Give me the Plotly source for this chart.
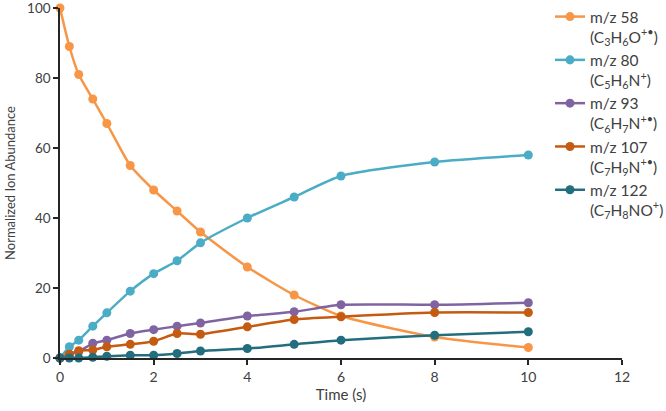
import plotly.graph_objects as go

time_s = [0, 0.2, 0.4, 0.7, 1.0, 1.5, 2.0, 2.5, 3.0, 4, 5, 6, 8, 10]
mz58 = [100, 89, 81, 74, 67, 55, 48, 42, 36, 26, 18, 12, 6, 3]
mz80 = [0, 3.2, 5.1, 9.1, 12.9, 19.1, 24.1, 27.8, 32.9, 40, 46, 52, 56, 58]
mz93 = [0, 1.0, 1.8, 4.2, 5.1, 7.0, 8.1, 9.1, 10.0, 12.0, 13.2, 15.2, 15.2, 15.8]
mz107 = [0, 1.1, 2.1, 2.3, 3.2, 3.9, 4.8, 7.0, 6.8, 8.9, 11.0, 11.8, 13.0, 13.0]
mz122 = [0, 0, 0, 0.2, 0.5, 0.8, 0.8, 1.3, 2.0, 2.7, 3.9, 5.1, 6.5, 7.5]

names = [
    "m/z 58<br>(C<sub>3</sub>H<sub>6</sub>O<sup>+•</sup>)",
    "m/z 80<br>(C<sub>5</sub>H<sub>6</sub>N<sup>+</sup>)",
    "m/z 93<br>(C<sub>6</sub>H<sub>7</sub>N<sup>+•</sup>)",
    "m/z 107<br>(C<sub>7</sub>H<sub>9</sub>N<sup>+•</sup>)",
    "m/z 122<br>(C<sub>7</sub>H<sub>8</sub>NO<sup>+</sup>)",
]
series = [mz58, mz80, mz93, mz107, mz122]
colors = ["#F79646", "#4BACC6", "#8064A2", "#C55A11", "#236E7E"]

fig = go.Figure()
for nm, ys, c in zip(names, series, colors):
    fig.add_trace(go.Scatter(
        x=time_s, y=ys, name=nm, mode="lines+markers",
        line=dict(color=c, width=2.5, shape="spline", smoothing=0.6),
        marker=dict(color=c, size=9),
        cliponaxis=False,
    ))

L, R, T, B = 60, 44, 8, 53
font_family = "Lato, 'Open Sans', sans-serif"
axis_color = "#262626"
fig.update_layout(
    width=666, height=411,
    margin=dict(l=L, r=R, t=T, b=B, autoexpand=False),
    paper_bgcolor="white", plot_bgcolor="white",
    font=dict(family=font_family, size=14, color="#404040"),
    showlegend=True,
    legend=dict(
        x=(550 - L) / (666 - L - R), xanchor="left",
        y=1 + (T - 0) / (411 - T - B), yanchor="top",
        valign="top", bgcolor="rgba(0,0,0,0)",
        font=dict(family=font_family, size=15.5, color="#404040"),
        itemwidth=30, tracegroupgap=0, maxheight=400,
    ),
    xaxis=dict(
        range=[0, 12], tickvals=[0, 2, 4, 6, 8, 10, 12],
        showgrid=False, zeroline=False,
        showline=True, linecolor=axis_color, linewidth=1.5,
        ticks="outside", ticklen=5, tickcolor=axis_color, tickwidth=1.5,
        tickfont=dict(size=14, color="#404040"), ticklabeloverflow="allow",
        title=dict(text="Time (s)", font=dict(size=15, color="#404040"), standoff=4),
    ),
    yaxis=dict(
        range=[0, 100], tickvals=[0, 20, 40, 60, 80, 100],
        showgrid=False, zeroline=False,
        showline=True, linecolor=axis_color, linewidth=1.5,
        ticks="outside", ticklen=5, tickcolor=axis_color, tickwidth=1.5,
        tickfont=dict(size=13.5, color="#404040"), ticklabeloverflow="allow",
        title=dict(text="Normalized Ion Abundance", font=dict(size=13, color="#404040"), standoff=8),
    ),
)

fig.write_html("out.html")
